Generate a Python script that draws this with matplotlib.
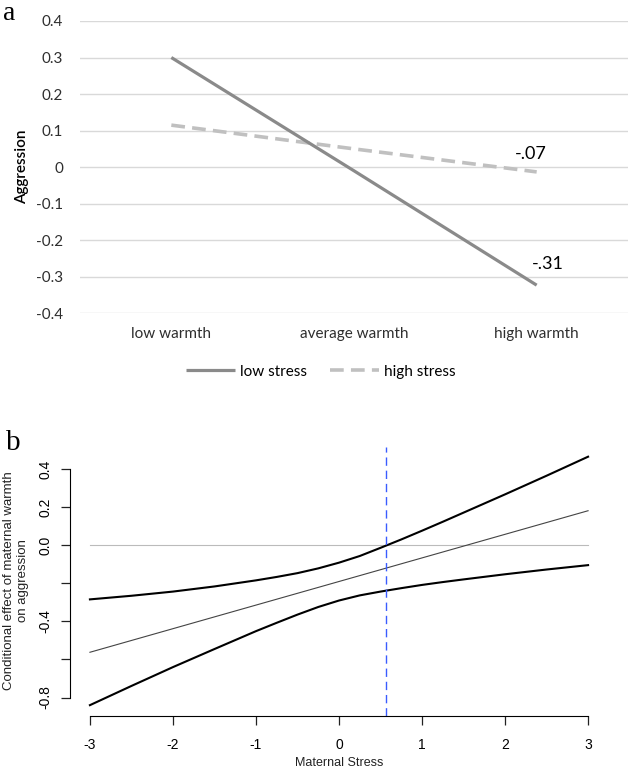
import matplotlib
matplotlib.use("Agg")
import matplotlib.pyplot as plt

# ---------------- data, panel a ----------------
categories = ["low warmth", "average warmth", "high warmth"]
low_stress = [0.30, -0.01, -0.323]
high_stress = [0.115, 0.05, -0.013]
y_ticks_a = [0.4, 0.3, 0.2, 0.1, 0, -0.1, -0.2, -0.3, -0.4]
y_ticklabels_a = ["0.4", "0.3", "0.2", "0.1", "0", "-0.1", "-0.2", "-0.3", "-0.4"]

# ---------------- data, panel b ----------------
stress = [-3, -2.5, -2, -1.5, -1, -0.75, -0.5, -0.25, 0, 0.25, 0.5, 0.75,
          1, 1.25, 1.5, 2, 2.5, 3]
upper_ci = [-0.284, -0.265, -0.243, -0.216, -0.184, -0.166, -0.146, -0.121,
            -0.091, -0.056, -0.013, 0.031, 0.077, 0.124, 0.172, 0.268, 0.366, 0.466]
lower_ci = [-0.840, -0.739, -0.640, -0.545, -0.451, -0.407, -0.364, -0.324,
            -0.290, -0.263, -0.243, -0.225, -0.208, -0.193, -0.179, -0.152, -0.127, -0.104]
effect_x = [-3, 3]
effect_y = [-0.562, 0.182]
jn_point = 0.571   # vertical line (region of significance)
x_ticks_b = [-3, -2, -1, 0, 1, 2, 3]
y_ticks_b = [-0.8, -0.6, -0.4, -0.2, 0.0, 0.2, 0.4]
y_ticklabels_b = ["-0.8", "", "-0.4", "", "0.0", "0.2", "0.4"]

fig = plt.figure(figsize=(6.3, 7.7), dpi=100)
W, H = 630, 770

########################
# panel a (Excel style)
########################
ax = fig.add_axes([80 / W, 1 - 313.3 / H, 548 / W, (313.3 - 21) / H])
for yv in y_ticks_a:
    ax.axhline(yv, color="#d9d9d9", lw=1.0, zorder=0)
xs = range(len(categories))
ax.plot(xs, low_stress, color="#8a8a8a", lw=2.3, solid_capstyle="butt",
        label="low stress", zorder=3)
ax.plot(xs, high_stress, color="#c0c0c0", lw=2.6, linestyle=(0, (3.8, 2.0)),
        dash_capstyle="butt", label="high stress", zorder=2)
ax.set_xlim(-0.5, 2.5)
ax.set_ylim(-0.4, 0.4)
for s in ax.spines.values():
    s.set_visible(False)
ax.set_yticks(y_ticks_a)
ax.set_yticklabels(y_ticklabels_a, fontsize=11, family="Lato", color="#2e2e2e")
ax.set_xticks(list(xs))
ax.set_xticklabels(categories, fontsize=11, family="Lato", color="#2e2e2e")
ax.tick_params(axis="both", length=0)
ax.tick_params(axis="y", pad=12)
ax.tick_params(axis="x", pad=10)
ax.text(1.881, 0.035, "-.07", fontsize=13, family="Lato", ha="left", va="center")
ax.text(1.974, -0.264, "-.31", fontsize=13, family="Lato", ha="left", va="center")
fig.text(22 / W, 1 - 167 / H, "Aggression", rotation=90, fontsize=11,
         family="Lato", fontweight="semibold", ha="center", va="center")
fig.legend(loc="center", bbox_to_anchor=(321 / W, 1 - 371.7 / H), ncol=2,
           frameon=False, prop={"family": "Lato", "size": 11},
           handlelength=3.2, handletextpad=0.35, columnspacing=1.5)
fig.text(3 / W, 1 - 13 / H, "a", fontsize=20, family="Liberation Serif",
         ha="left", va="center")

########################
# panel b (R style)
########################
bx = fig.add_axes([70 / W, 1 - 716 / H, 538 / W, (716 - 447) / H])
bx.plot(effect_x, [0, 0], color="#bbbbbb", lw=0.8)
bx.plot(stress, upper_ci, color="black", lw=1.5)
bx.plot(stress, lower_ci, color="black", lw=1.5)
bx.plot(effect_x, effect_y, color="#444444", lw=0.8)
bx.axvline(jn_point, color="#3a5cff", lw=1.0, linestyle=(0, (6, 3.5)))
bx.set_xlim(-3.24, 3.24)
bx.set_ylim(-0.897, 0.517)
bx.spines["top"].set_visible(False)
bx.spines["right"].set_visible(False)
bx.spines["left"].set_bounds(-0.8, 0.4)
bx.spines["bottom"].set_bounds(-3, 3)
bx.set_xticks(x_ticks_b)
bx.set_xticklabels([str(v) for v in x_ticks_b], fontsize=10, family="Liberation Sans")
bx.set_yticks(y_ticks_b)
bx.set_yticklabels(y_ticklabels_b, fontsize=10, family="Liberation Sans",
                   rotation=90, va="center")
bx.tick_params(axis="both", length=6.5, width=0.9, color="#222222")
bx.tick_params(axis="x", pad=9)
bx.tick_params(axis="y", pad=6)
fig.text(16 / W, 1 - 581 / H, "Conditional effect of maternal warmth\non aggression",
         rotation=90, fontsize=9.5, family="Liberation Sans", ha="center",
         va="center", color="#222222", linespacing=1.25)
fig.text(339 / W, 1 - 763 / H, "Maternal Stress", fontsize=9, family="Liberation Sans",
         ha="center", va="center", color="#222222")
fig.text(6 / W, 1 - 443 / H, "b", fontsize=21, family="Liberation Serif",
         ha="left", va="center")

fig.savefig("out.png", dpi=100)
